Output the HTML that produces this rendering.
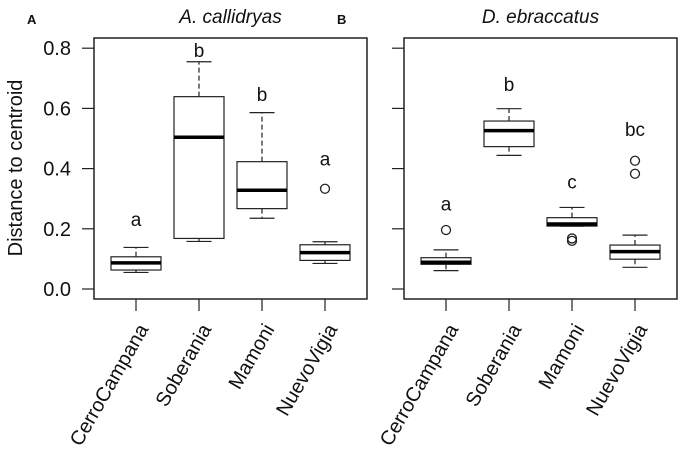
<!DOCTYPE html>
<html><head><meta charset="utf-8"><style>
html,body{margin:0;padding:0;background:#fff;}
svg{display:block;font-family:"Liberation Sans",Arial,sans-serif;}
</style></head><body>
<svg id="chart" width="680" height="449" viewBox="0 0 680 449" xmlns="http://www.w3.org/2000/svg"></svg>
<script>
const categories = ["CerroCampana","Soberania","Mamoni","NuevoVigia"];
const yTicks = [0.0,0.2,0.4,0.6,0.8];
const yTickLabels = ["0.0","0.2","0.4","0.6","0.8"];
// [low whisker, q1, median, q3, high whisker]
const statsA = [[0.055,0.063,0.087,0.107,0.138],[0.158,0.168,0.504,0.639,0.755],[0.235,0.267,0.328,0.423,0.586],[0.085,0.095,0.121,0.147,0.157]];
const outliersA = [[],[],[],[0.333]];
const lettersA = ["a","b","b","a"];
const letterPosA = [0.23,0.79,0.645,0.43];
const statsB = [[0.061,0.082,0.089,0.104,0.13],[0.444,0.473,0.526,0.558,0.599],[0.209,0.209,0.216,0.237,0.271],[0.072,0.099,0.124,0.146,0.179]];
const outliersB = [[0.196],[],[0.16,0.168],[0.383,0.426]];
const lettersB = ["a","b","c","bc"];
const letterPosB = [0.28,0.678,0.353,0.528];

const svg = document.getElementById('chart');
const NS = "http://www.w3.org/2000/svg";
function mk(tag, attrs, parent){const e=document.createElementNS(NS,tag);for(const k in attrs)e.setAttribute(k,attrs[k]);(parent||svg).appendChild(e);return e;}
const y0 = 289, yPer = 301;
function yScale(v){return y0 - v*yPer;}

function panel(opt){
  const g = mk('g',{});
  
  
  const L=opt.left,R=opt.left+273,T=38,B=299;
  const frame = mk('rect',{x:L,y:T,width:R-L,height:B-T,fill:'none',stroke:'#222','stroke-width':1.5},g);
  
  
  const title = mk('text',{x:(L+R)/2,y:23,'text-anchor':'middle','font-size':19,'font-style':'italic',fill:'#111'},g);
  title.textContent = opt.title;
  
  
  const pl = mk('text',{x:L-67,y:24,'font-size':13,'font-weight':'bold',fill:'#111'},g);
  pl.textContent = opt.letter;
  
  
  yTicks.forEach((t,i)=>{
    const yy=yScale(t);
    const tk=mk('line',{x1:L-12,x2:L,y1:yy,y2:yy,stroke:'#222','stroke-width':1.2},g);
    
    
    if(opt.showYLabels){
      const tl=mk('text',{x:L-23,y:yy+7,'text-anchor':'end','font-size':20,fill:'#111'},g);
      tl.textContent=yTickLabels[i];
      
      
    }
  });
  const step=63, x0=L+42, hw=25;
  categories.forEach((c,i)=>{
    const cx=x0+i*step;
    const tk=mk('line',{x1:cx,x2:cx,y1:B,y2:B+12,stroke:'#222','stroke-width':1.2},g);
    
    
    const ax=cx+13, ay=B+30;
    const lb=mk('text',{x:ax,y:ay,'text-anchor':'end','font-size':20,fill:'#111',transform:`rotate(-60 ${ax} ${ay})`},g);
    lb.textContent=c;
    
    
    const s=opt.stats[i];
    const bg=mk('g',{},g);
    
    
    const ylo=yScale(s[0]),yq1=yScale(s[1]),ym=yScale(s[2]),yq3=yScale(s[3]),yhi=yScale(s[4]);
    mk('line',{x1:cx,x2:cx,y1:yq1,y2:ylo,stroke:'#222','stroke-width':1.2,'stroke-dasharray':'5,3'},bg);
    mk('line',{x1:cx,x2:cx,y1:yq3,y2:yhi,stroke:'#222','stroke-width':1.2,'stroke-dasharray':'5,3'},bg);
    mk('line',{x1:cx-12.5,x2:cx+12.5,y1:ylo,y2:ylo,stroke:'#222','stroke-width':1.2},bg);
    mk('line',{x1:cx-12.5,x2:cx+12.5,y1:yhi,y2:yhi,stroke:'#222','stroke-width':1.2},bg);
    mk('rect',{x:cx-hw,y:yq3,width:hw*2,height:Math.max(yq1-yq3,0.5),fill:'#fff',stroke:'#222','stroke-width':1.2},bg);
    mk('line',{x1:cx-hw,x2:cx+hw,y1:ym,y2:ym,stroke:'#000','stroke-width':3.5},bg);
    opt.outliers[i].forEach(o=>{
      const c2=mk('circle',{cx:cx,cy:yScale(o),r:4.5,fill:'none',stroke:'#222','stroke-width':1.3},bg);
      
      
    });
    const lt=mk('text',{x:cx,y:yScale(opt.letterPos[i])+6,'text-anchor':'middle','font-size':19,fill:'#111'},g);
    lt.textContent=opt.letters[i];
    
    
  });
}
panel({name:'panel-a',left:94,title:'A. callidryas',letter:'A',showYLabels:true,stats:statsA,outliers:outliersA,letters:lettersA,letterPos:letterPosA});
panel({name:'panel-b',left:404,title:'D. ebraccatus',letter:'B',showYLabels:false,stats:statsB,outliers:outliersB,letters:lettersB,letterPos:letterPosB});
const yt=mk('text',{x:0,y:0,'text-anchor':'middle','font-size':20,fill:'#111',transform:'translate(22 168) rotate(-90)'});
yt.textContent='Distance to centroid';


</script>
</body></html>
